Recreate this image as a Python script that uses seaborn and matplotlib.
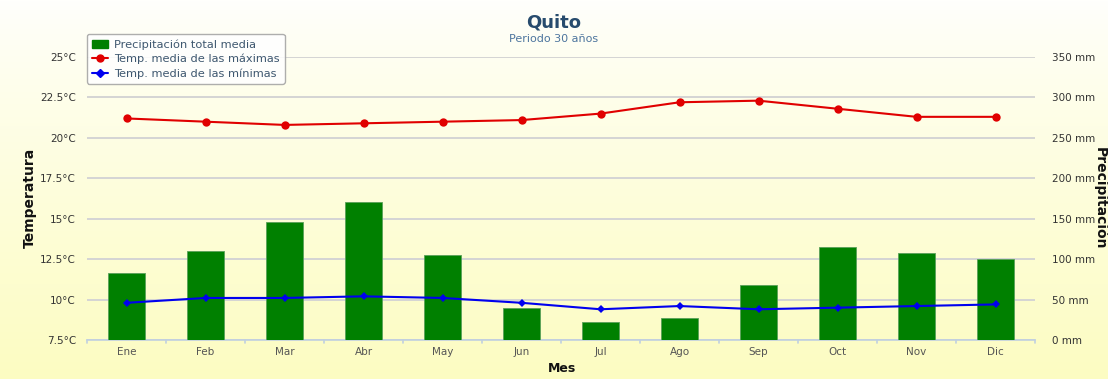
import numpy as np
import pandas as pd
import matplotlib
matplotlib.use("Agg")
import matplotlib.pyplot as plt
from matplotlib.lines import Line2D
from matplotlib.patches import Patch
import seaborn as sns

meses = ["Ene", "Feb", "Mar", "Abr", "May", "Jun", "Jul", "Ago", "Sep", "Oct", "Nov", "Dic"]
precipitacion = [83, 110, 146, 171, 105, 40, 22, 27, 68, 115, 108, 100]
temp_max = [21.2, 21.0, 20.8, 20.9, 21.0, 21.1, 21.5, 22.2, 22.3, 21.8, 21.3, 21.3]
temp_min = [9.8, 10.1, 10.1, 10.2, 10.1, 9.8, 9.4, 9.6, 9.4, 9.5, 9.6, 9.7]

temp_ticks = [7.5, 10, 12.5, 15, 17.5, 20, 22.5, 25]
temp_labels = ["7.5°C", "10°C", "12.5°C", "15°C", "17.5°C", "20°C", "22.5°C", "25°C"]
prec_ticks = [0, 50, 100, 150, 200, 250, 300, 350]
prec_labels = [f"{v} mm" for v in prec_ticks]

df = pd.DataFrame({"Mes": meses, "Precip": precipitacion,
                   "Tmax": temp_max, "Tmin": temp_min})
df["x"] = np.arange(len(meses))

sns.set_theme(style="white")
plt.rcParams["font.family"] = ["DejaVu Sans"]

W, H = 1108, 379
fig = plt.figure(figsize=(W / 100, H / 100), dpi=100)

# soft vertical gradient behind everything
bg = fig.add_axes([0, 0, 1, 1], zorder=-10)
top = np.array([1.0, 1.0, 0.99])
bottom = np.array([0.99, 0.99, 0.76])
t = np.linspace(0, 1, 256) ** 0.85
grad = top[None, :] * (1 - t[:, None]) + bottom[None, :] * t[:, None]
grad = np.repeat(grad[:, None, :], 4, axis=1)
bg.imshow(grad, aspect="auto", extent=[0, 1, 0, 1])
bg.axis("off")

left, right = 87 / W, 1035 / W
y_top, y_bot = 57 / H, 340 / H
ax = fig.add_axes([left, 1 - y_bot, right - left, y_bot - y_top])
ax.set_facecolor("none")
ax2 = ax.twinx()

# precipitation bars (right axis)
sns.barplot(data=df, x="Mes", y="Precip", ax=ax, color="#008000",
            saturation=1, width=0.47, edgecolor="#5aa05a", linewidth=0.6, zorder=3)
ax.set_ylim(0, 350)
ax.set_xlim(-0.5, 11.5)
ax.yaxis.tick_right()
ax.yaxis.set_label_position("right")
ax.set_yticks(prec_ticks)
ax.set_yticklabels(prec_labels)
ax.grid(axis="y", color="#d4d4d4", linewidth=1.4, zorder=0)
ax.grid(axis="x", visible=False)
ax.set_axisbelow(True)

# temperature lines (left axis)
sns.lineplot(data=df, x="x", y="Tmax", ax=ax2, color="#e00000", linewidth=1.5,
             marker="o", markersize=6, markeredgewidth=0, zorder=5)
sns.lineplot(data=df, x="x", y="Tmin", ax=ax2, color="#0000ee", linewidth=1.5,
             marker="D", markersize=4.5, markeredgewidth=0, zorder=5)
ax2.set_ylim(7.5, 25)
ax2.yaxis.tick_left()
ax2.yaxis.set_label_position("left")
ax2.set_yticks(temp_ticks)
ax2.set_yticklabels(temp_labels)
ax2.grid(False)

for a in (ax, ax2):
    for s in a.spines.values():
        s.set_visible(False)
    a.set_xlabel("")
    a.set_ylabel("")
    a.tick_params(axis="y", length=0, labelsize=7.5, labelcolor="#333333")

ax2.tick_params(axis="y", pad=8)
ax.tick_params(axis="y", pad=12)

# category axis with boundary ticks
ax.set_xlim(-0.5, 11.5)
ax.spines["bottom"].set_visible(True)
ax.spines["bottom"].set_color("#c0d0e0")
ax.spines["bottom"].set_linewidth(1.2)
ax.set_xticks(range(12))
ax.set_xticklabels(meses)
ax.tick_params(axis="x", length=0, labelsize=7.5, labelcolor="#555555", pad=5,
               labelbottom=True)
ax2.tick_params(axis="x", length=0, labelbottom=False, labeltop=False)
for b in np.arange(-0.5, 12.0, 1.0):
    ax.plot([b, b], [0, -3.5], color="#c0d0e0", linewidth=1.2, clip_on=False,
            zorder=4)

# titles and axis labels
fig.text(0.5, 1 - 22 / H, "Quito", ha="center", va="center", fontsize=13,
         fontweight="bold", color="#274b6d")
fig.text(0.5, 1 - 39 / H, "Periodo 30 años", ha="center", va="center",
         fontsize=8, color="#4d759e")
fig.text(30 / W, 1 - 198 / H, "Temperatura", rotation=90, ha="center", va="center",
         fontsize=10, fontweight="bold", color="#111111")
fig.text(1100 / W, 1 - 198 / H, "Precipitación", rotation=-90, ha="center",
         va="center", fontsize=10, fontweight="bold", color="#111111")
fig.text(562 / W, 1 - 369 / H, "Mes", ha="center", va="center", fontsize=9,
         fontweight="bold", color="#111111")

handles = [
    Patch(facecolor="#008000", edgecolor="#008000"),
    Line2D([0], [0], color="#e00000", marker="o", markersize=5, linewidth=1.5),
    Line2D([0], [0], color="#0000ee", marker="D", markersize=4, linewidth=1.5),
]
labels = ["Precipitación total media", "Temp. media de las máximas",
          "Temp. media de las mínimas"]
leg = fig.legend(handles, labels, loc="upper left",
                 bbox_to_anchor=(87 / W, 1 - 34 / H), fontsize=8.2,
                 frameon=True, fancybox=True, handlelength=1.4,
                 handletextpad=0.5, borderpad=0.45, labelspacing=0.35,
                 borderaxespad=0)
leg.get_frame().set_facecolor("white")
leg.get_frame().set_alpha(0.85)
leg.get_frame().set_edgecolor("#a0a0a0")
for txt in leg.get_texts():
    txt.set_color("#3e576f")
leg.set_zorder(20)

fig.savefig("out.png", dpi=100)
